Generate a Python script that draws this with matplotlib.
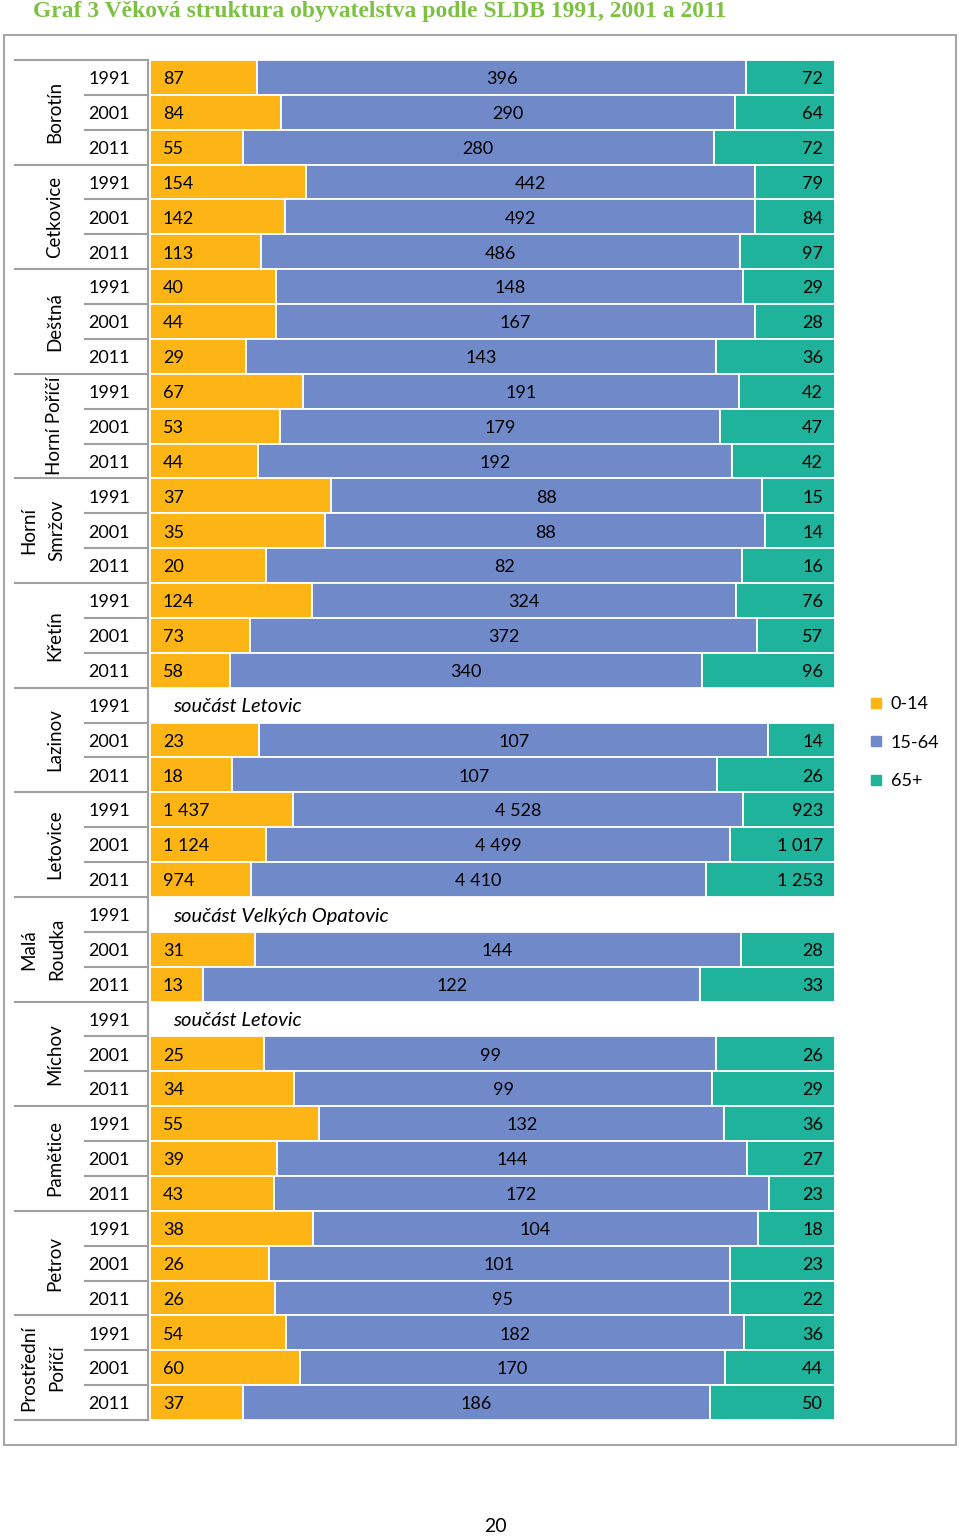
import matplotlib.pyplot as plt
from matplotlib.transforms import blended_transform_factory
from matplotlib.lines import Line2D
from matplotlib.patches import Rectangle

plt.rcParams['font.family'] = ['Lato', 'DejaVu Sans']

# data
groups = ['Borotín', 'Cetkovice', 'Deštná', 'Horní Poříčí', 'Horní\nSmržov', 'Křetín',
          'Lazinov', 'Letovice', 'Malá\nRoudka', 'Míchov', 'Pamětice', 'Petrov',
          'Prostřední\nPoříčí']
years = ['1991', '2001', '2011']
series = ['0-14', '15-64', '65+']

age_0_14 = [87, 84, 55, 154, 142, 113, 40, 44, 29, 67, 53, 44, 37, 35, 20,
            124, 73, 58, None, 23, 18, 1437, 1124, 974, None, 31, 13,
            None, 25, 34, 55, 39, 43, 38, 26, 26, 54, 60, 37]
age_15_64 = [396, 290, 280, 442, 492, 486, 148, 167, 143, 191, 179, 192, 88, 88, 82,
             324, 372, 340, None, 107, 107, 4528, 4499, 4410, None, 144, 122,
             None, 99, 99, 132, 144, 172, 104, 101, 95, 182, 170, 186]
age_65 = [72, 64, 72, 79, 84, 97, 29, 28, 36, 42, 47, 42, 15, 14, 16,
          76, 57, 96, None, 14, 26, 923, 1017, 1253, None, 28, 33,
          None, 26, 29, 36, 27, 23, 18, 23, 22, 36, 44, 50]
notes = {18: 'součást Letovic', 24: 'součást Velkých Opatovic', 27: 'součást Letovic'}

colors = ['#FDB515', '#7089C9', '#1FB39B']
W, H = 960, 1537
dy = 0.05  # small nudge so text sits in the middle of the row


def fmt(v):
    return f'{v:,}'.replace(',', ' ')


fig = plt.figure(figsize=(W / 100, H / 100), dpi=100)
ax = fig.add_axes([150 / W, 1 - 1420 / H, 685 / W, 1360 / H])

# chart frame
fig.patches.append(Rectangle((4 / W, 1 - 1445 / H), 952 / W, 1410 / H,
                             transform=fig.transFigure, fill=False,
                             edgecolor='#A6A6A6', linewidth=1.5))

n = len(age_0_14)
for i in range(n):
    if age_0_14[i] is None:
        ax.text(0.034, i + dy, notes[i], style='italic', fontsize=14.5,
                ha='left', va='center')
        continue
    vals = [age_0_14[i], age_15_64[i], age_65[i]]
    tot = sum(vals)
    left = 0
    for k, v in enumerate(vals):
        ax.barh(i, v / tot, left=left, height=1.0, color=colors[k],
                edgecolor='white', linewidth=1.3)
        if k == 0:
            ax.text(0.019, i + dy, fmt(v), ha='left', va='center', fontsize=13)
        elif k == 1:
            ax.text(left + v / tot / 2, i + dy, fmt(v), ha='center', va='center', fontsize=13)
        else:
            ax.text(0.9825, i + dy, fmt(v), ha='right', va='center', fontsize=13)
        left += v / tot

ax.set_xlim(0, 1)
ax.set_ylim(n - 0.5, -0.5)
ax.axis('off')

# category axis (years + places)
tr = blended_transform_factory(fig.transFigure, ax.transData)
line_kw = dict(color='#A0A0A0', linewidth=1.5, transform=tr, clip_on=False)
for g, name in enumerate(groups):
    for j, yr in enumerate(years):
        r = g * 3 + j
        ax.text(109 / W, r + dy, yr, transform=tr, ha='center', va='center', fontsize=13)
        if j > 0:
            ax.add_line(Line2D([85 / W, 148 / W], [r - 0.5, r - 0.5], **line_kw))
    ax.add_line(Line2D([15 / W, 148 / W], [g * 3 - 0.5, g * 3 - 0.5], **line_kw))
    ax.text((55 if '\n' not in name else 43) / W, g * 3 + 1, name, transform=tr,
            rotation=90, ha='center', va='center', multialignment='center',
            fontsize=13.5, linespacing=1.75)
ax.add_line(Line2D([15 / W, 148 / W], [n - 0.5, n - 0.5], **line_kw))
ax.add_line(Line2D([148 / W, 148 / W], [-0.5, n - 0.5], **line_kw))

# legend
handles = [Line2D([], [], marker='s', linestyle='none', markersize=7,
                  color=c) for c in colors]
fig.legend(handles, series, loc='upper left', bbox_to_anchor=(862 / W, 1 - 689 / H),
           frameon=False, fontsize=13, handlelength=0.8, handletextpad=0.4,
           labelspacing=1.25, borderaxespad=0)

# title and page number
fig.text(33 / W, 1 - 11 / H, 'Graf 3 Věková struktura obyvatelstva podle SLDB 1991, 2001 a 2011',
         family='Liberation Serif', weight='bold', fontsize=17, color='#7DC142',
         ha='left', va='center')
fig.text(495 / W, 1 - 1527 / H, '20', ha='center', va='center', fontsize=14)

fig.savefig('out.png', dpi=100)
